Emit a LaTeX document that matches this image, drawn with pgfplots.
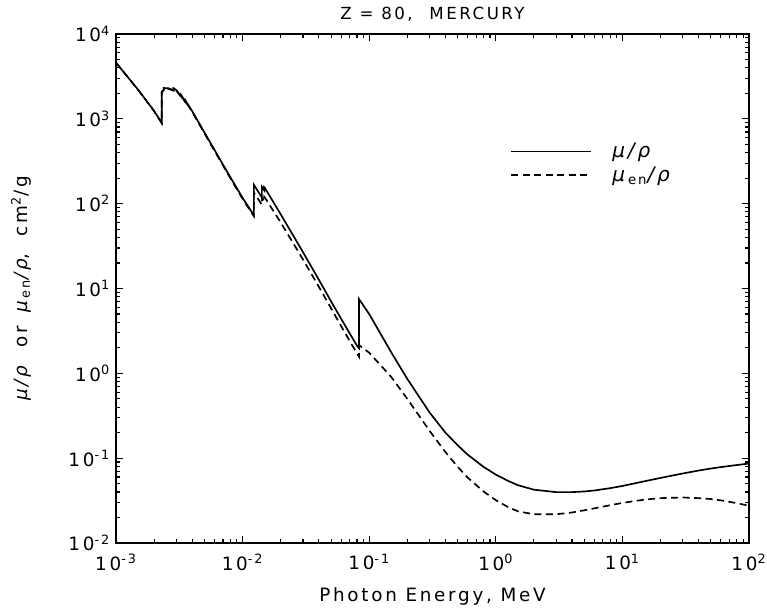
\documentclass[border=0pt]{standalone}
\usepackage{fontspec}
\setmainfont[LetterSpace=15]{DejaVu Sans}
\usepackage{pgfplots}
\pgfplotsset{compat=1.18}

\begin{document}
\begin{tikzpicture}
\begin{axis}[
    xmode=log, ymode=log,
    scale only axis,
    width=379.8pt, height=305.4pt,
    xmin=1e-3, xmax=1e2, ymin=1e-2, ymax=1e4,
    xtick={1e-3,1e-2,1e-1,1,1e1,1e2},
    xticklabels={10\textsuperscript{-3},10\textsuperscript{-2},10\textsuperscript{-1},10\textsuperscript{0},10\textsuperscript{1},10\textsuperscript{2}},
    ytick={1e-2,1e-1,1,1e1,1e2,1e3,1e4},
    yticklabels={10\textsuperscript{-2},10\textsuperscript{-1},10\textsuperscript{0},10\textsuperscript{1},10\textsuperscript{2},10\textsuperscript{3},10\textsuperscript{4}},
    minor xtick={2e-3,3e-3,4e-3,5e-3,6e-3,7e-3,8e-3,9e-3,
                 2e-2,3e-2,4e-2,5e-2,6e-2,7e-2,8e-2,9e-2,
                 0.2,0.3,0.4,0.5,0.6,0.7,0.8,0.9,
                 2,3,4,5,6,7,8,9,
                 20,30,40,50,60,70,80,90},
    minor ytick={2e-2,3e-2,4e-2,5e-2,6e-2,7e-2,8e-2,9e-2,
                 0.2,0.3,0.4,0.5,0.6,0.7,0.8,0.9,
                 2,3,4,5,6,7,8,9,
                 20,30,40,50,60,70,80,90,
                 200,300,400,500,600,700,800,900,
                 2000,3000,4000,5000,6000,7000,8000,9000},
    axis line style={line width=0.9pt},
    major tick length=4pt, minor tick length=2.2pt,
    every tick/.style={black, line width=0.7pt},
    tick label style={font=\fontsize{11}{13}\selectfont},
    xticklabel style={yshift=-3pt},
    xlabel={Photon Energy, MeV},
    ylabel={\textit{μ/ρ}\hspace{4pt} or \hspace{3pt}\textit{μ}\textsubscript{en}\textit{/ρ},\hspace{5pt} cm\textsuperscript{2}/g},
    title={Z = 80,\quad MERCURY},
    label style={font=\fontsize{11}{13}\selectfont},
    title style={font=\fontsize{10}{12}\selectfont, at={(axis description cs:0.5,1.019)}, anchor=center},
    xlabel style={at={(axis description cs:0.5,-0.104)}, anchor=center},
    ylabel style={at={(axis description cs:-0.150,0.5)}, anchor=center},
    legend style={draw=none, fill=none, at={(0.615,0.80)}, anchor=north west,
                  font=\fontsize{12}{13}\selectfont, row sep=0pt},
    legend cell align=left,
    legend image code/.code={\draw[#1] (0pt,0pt) -- (48pt,0pt); \path (58pt,0pt);},
]
% mu/rho
\addplot[black, line width=1pt] coordinates {
(1e-3,4600)(1.5e-3,2190)(2e-3,1240)(2.295e-3,900)(2.295e-3,2080)
(2.385e-3,2200)(2.385e-3,2310)(2.6e-3,2290)(2.847e-3,2180)(2.847e-3,2300)
(3e-3,2180)(3.279e-3,1820)(3.279e-3,1900)(3.562e-3,1560)(3.562e-3,1620)
(4e-3,1230)(5e-3,690)(6e-3,430)(8e-3,205)(1e-2,117)
(1.228e-2,73)(1.228e-2,167)(1.421e-2,118)(1.421e-2,158)(1.484e-2,143)(1.484e-2,156)(1.5e-2,153)
(2e-2,75)(3e-2,26.8)(4e-2,12.7)(5e-2,7.05)(6e-2,4.4)(8e-2,2.12)(8.31e-2,1.98)(8.31e-2,7.5)
(0.1,5.0)(0.15,1.75)(0.2,0.86)(0.3,0.345)(0.4,0.2)(0.5,0.142)(0.6,0.11)(0.8,0.079)
(1,0.064)(1.25,0.054)(1.5,0.048)(2,0.0425)(3,0.0398)(4,0.0398)(5,0.0405)(6,0.0416)
(8,0.0443)(10,0.047)(15,0.0535)(20,0.0585)(30,0.066)(40,0.0715)(50,0.0755)(60,0.0785)
(80,0.083)(100,0.0865)
};
\addlegendentry{\textit{μ/ρ}}
% mu_en/rho
\addplot[black, line width=1pt, dash pattern=on 4.2pt off 2.7pt] coordinates {
(1e-3,4590)(1.5e-3,2180)(2e-3,1230)(2.295e-3,890)(2.295e-3,2060)
(2.385e-3,2180)(2.385e-3,2280)(2.6e-3,2260)(2.847e-3,2150)(2.847e-3,2270)
(3e-3,2150)(3.279e-3,1790)(3.279e-3,1870)(3.562e-3,1530)(3.562e-3,1590)
(4e-3,1205)(5e-3,675)(6e-3,420)(8e-3,200)(1e-2,114)
(1.228e-2,71)(1.228e-2,135)(1.421e-2,97)(1.421e-2,118)(1.484e-2,106)(1.484e-2,120)(1.5e-2,118)
(2e-2,60)(3e-2,22)(4e-2,10.5)(5e-2,5.85)(6e-2,3.6)(8e-2,1.72)(8.31e-2,1.57)(8.31e-2,2.15)
(0.1,1.75)(0.15,0.9)(0.2,0.5)(0.3,0.21)(0.4,0.118)(0.5,0.079)(0.6,0.059)(0.8,0.0405)
(1,0.032)(1.25,0.0265)(1.5,0.0236)(2,0.0218)(3,0.0218)(4,0.0229)(5,0.0243)(6,0.0256)
(8,0.0279)(10,0.0297)(15,0.0325)(20,0.0338)(30,0.0344)(40,0.0338)(50,0.033)(60,0.0318)
(80,0.0295)(100,0.0275)
};
\addlegendentry{\textit{μ}\textsubscript{en}\textit{/ρ}}
\end{axis}
\pgfresetboundingbox
\path[use as bounding box] ([xshift=-69.6pt,yshift=-41.4pt]current axis.south west) rectangle ([xshift=10.8pt,yshift=20.4pt]current axis.north east);
\end{tikzpicture}
\end{document}
